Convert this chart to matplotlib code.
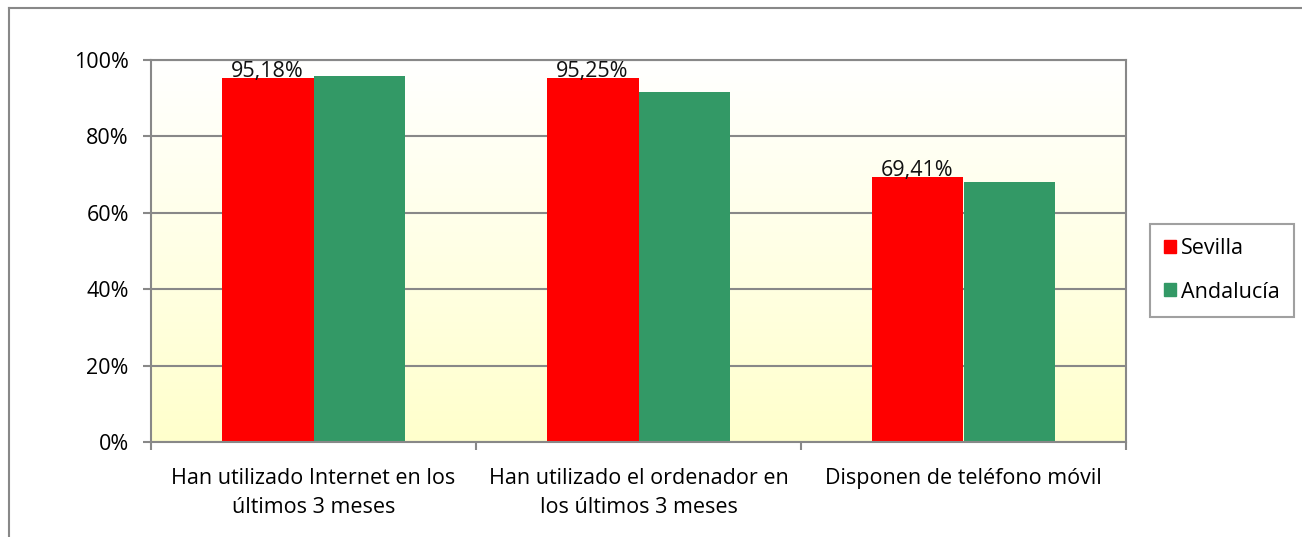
import numpy as np
import matplotlib.pyplot as plt
from matplotlib.colors import LinearSegmentedColormap
from matplotlib.patches import Rectangle
from matplotlib.lines import Line2D

# data
categories = ["Han utilizado Internet en los\núltimos 3 meses",
              "Han utilizado el ordenador en\nlos últimos 3 meses",
              "Disponen de teléfono móvil"]
sevilla = [95.18, 95.25, 69.41]
andalucia = [95.8, 91.6, 68.1]
series_names = ["Sevilla", "Andalucía"]
y_ticks = [0, 20, 40, 60, 80, 100]

plt.rcParams['font.family'] = ['Open Sans', 'DejaVu Sans']
fs = 15.5

fig = plt.figure(figsize=(13.02, 5.37), dpi=100)
ax = fig.add_axes([151 / 1302, 1 - 442 / 537, 975 / 1302, 382 / 537])

# background gradient (white at top, pale yellow at bottom)
cmap = LinearSegmentedColormap.from_list("bg", ["#FFFFCC", "#FFFFFF"])
grad = np.linspace(0, 1, 256).reshape(-1, 1)
ax.imshow(grad, cmap=cmap, aspect="auto", origin="lower",
          extent=[0, 3, 0, 100], zorder=0)

x = np.arange(len(categories)) + 0.5
w = 0.283
ax.bar(x - w / 2, sevilla, w, color="#FF0000", label=series_names[0], zorder=2)
ax.bar(x + w / 2, andalucia, w, color="#339966", label=series_names[1], zorder=2)

for xi, v in zip(x - w / 2, sevilla):
    ax.text(xi, v - 1.0, f"{v:.2f}%".replace(".", ","), ha="center", va="bottom",
            fontsize=fs, color="#111111", zorder=3)

ax.set_xlim(0, 3)
ax.set_ylim(0, 100)
ax.set_yticks(y_ticks)
ax.set_yticklabels([f"{t}%" for t in y_ticks], fontsize=fs)
ax.yaxis.grid(True, color="#888888", linewidth=1.5, zorder=1)
ax.set_axisbelow(True)

ax.set_xticks([0, 1, 2, 3])
ax.set_xticklabels([])
ax.set_xticks(x, minor=True)
ax.set_xticklabels(categories, minor=True, fontsize=fs, linespacing=1.5)
ax.tick_params(axis="x", which="minor", length=0, pad=19)
ax.tick_params(axis="x", which="major", length=6, width=1.5, color="#888888")
ax.tick_params(axis="y", length=6, width=1.5, color="#888888", pad=10)

for s in ax.spines.values():
    s.set_color("#888888")
    s.set_linewidth(1.5)

# legend box
leg = fig.legend(handles=[Rectangle((0, 0), 1, 1, color="#FF0000"),
                          Rectangle((0, 0), 1, 1, color="#339966")],
                 labels=series_names, loc="upper left",
                 bbox_to_anchor=(1150 / 1302, 1 - 224 / 537),
                 fontsize=fs, frameon=True, fancybox=False,
                 handlelength=0.55, handleheight=0.55, handletextpad=0.25,
                 labelspacing=1.05, borderpad=0.65, borderaxespad=0)
leg.get_frame().set_edgecolor("#888888")
leg.get_frame().set_linewidth(1.5)

# outer chart border
fig.add_artist(Line2D([9 / 1302, 9 / 1302], [0, 1 - 8 / 537],
                      color="#888888", linewidth=1.5))
fig.add_artist(Line2D([9 / 1302, 1], [1 - 8 / 537, 1 - 8 / 537],
                      color="#888888", linewidth=1.5))

fig.savefig("out.png", dpi=100)
